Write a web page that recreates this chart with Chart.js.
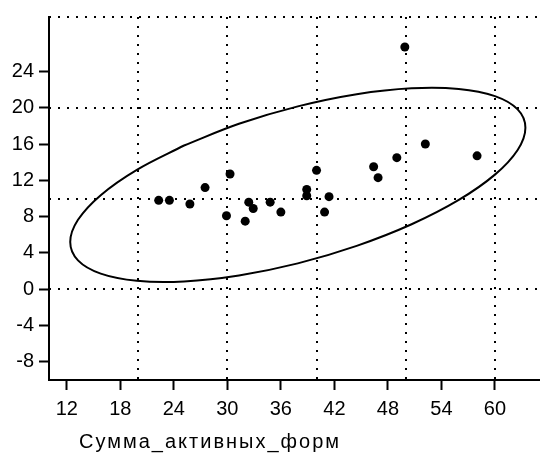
<!DOCTYPE html>
<html>
<head>
<meta charset="utf-8">
<script src="https://cdn.jsdelivr.net/npm/chart.js@4"></script>
<style>
  html, body { margin: 0; padding: 0; background: #fff; }
</style>
</head>
<body>
<canvas id="scatter-chart" width="544" height="455"></canvas>
<script>
// Observations (x = Сумма_активных_форм)
const sumActive = [22.3, 23.5, 25.8, 27.5, 29.9, 30.3, 32.0, 32.4, 32.9, 34.8, 36.0,
                   38.9, 38.9, 40.0, 40.9, 41.4, 46.4, 46.9, 49.0, 49.9, 52.2, 58.0];
const yValues = [9.8, 9.8, 9.4, 11.2, 8.1, 12.7, 7.5, 9.6, 8.9, 9.6, 8.5,
                 11.0, 10.3, 13.1, 8.5, 10.2, 13.5, 12.3, 14.5, 26.7, 16.0, 14.7];

// Confidence ellipse, going round from the upper-left side
// (closed: last point = first)
const ellipseX = [25.14, 19.85, 15.80, 13.25, 12.38, 13.25, 15.80, 19.85, 25.14, 31.30,
                  37.90, 44.50, 50.66, 55.95, 60.00, 62.55, 63.42, 62.55, 60.00, 55.95,
                  50.66, 44.50, 37.90, 31.30, 25.14];
const ellipseY = [15.84, 13.16, 10.37, 7.65, 5.20, 3.18, 1.72, 0.93, 0.86, 1.52,
                  2.85, 4.78, 7.16, 9.84, 12.63, 15.35, 17.80, 19.82, 21.28, 22.07,
                  22.14, 21.49, 20.15, 18.23, 15.84];

// Axes
const xTicks = [12, 18, 24, 30, 36, 42, 48, 54, 60];
const yTicks = [-8, -4, 0, 4, 8, 12, 16, 20, 24];
const xGridLines = [20, 30, 40, 50, 60];
const yGridLines = [0, 10, 20, 30];
const xTitle = "Сумма_активных_форм";

const FONT = { family: "Liberation Sans", size: 20 };

// x-axis title sits left-aligned, a bit in from the y axis
const axisTitlePlugin = {
  id: "axisTitle",
  afterDraw(chart) {
    const { ctx, chartArea } = chart;
    ctx.save();
    ctx.font = '20px "Liberation Sans"';
    ctx.letterSpacing = "2px";
    ctx.fillStyle = "#000";
    ctx.textBaseline = "alphabetic";
    ctx.textAlign = "left";
    ctx.fillText(xTitle, chartArea.left + 30, chartArea.bottom + 68);
    ctx.restore();
  },
};

const setTicks = (values) => (axis) => {
  axis.ticks = values.map((v) => ({ value: v }));
};

const ctx = document.getElementById("scatter-chart").getContext("2d");

new Chart(ctx, {
  type: "scatter",
  data: {
    datasets: [
      {
        label: "points",
        data: sumActive.map((x, i) => ({ x, y: yValues[i] })),
        backgroundColor: "#000",
        borderColor: "#000",
        borderWidth: 0,
        pointRadius: 4.5,
      },
      {
        label: "ellipse",
        data: ellipseX.map((x, i) => ({ x, y: ellipseY[i] })),
        showLine: true,
        borderColor: "#000",
        borderWidth: 2,
        pointRadius: 0,
        tension: 0.35,
        fill: false,
      },
    ],
  },
  options: {
    responsive: false,
    animation: false,
    layout: { padding: { top: 10, left: 0, right: 0, bottom: 0 } },
    plugins: {
      legend: { display: false },
      tooltip: { enabled: false },
    },
    scales: {
      x: {
        type: "linear",
        position: "bottom",
        min: 10,
        max: 65,
        afterBuildTicks: setTicks(xTicks),
        afterFit: (axis) => { axis.height = 75; },
        grid: { drawOnChartArea: false, drawTicks: true, tickLength: 10, tickWidth: 2, tickColor: "#000" },
        border: { display: true, color: "#000", width: 2 },
        ticks: { color: "#000", font: FONT, padding: 7, maxRotation: 0, autoSkip: false },
      },
      xg: {
        type: "linear",
        position: "bottom",
        min: 10,
        max: 65,
        afterBuildTicks: setTicks(xGridLines),
        grid: { color: "#000", lineWidth: 2, drawTicks: false },
        border: { display: false, dash: [2, 7] },
        ticks: { display: false },
      },
      y: {
        type: "linear",
        position: "left",
        min: -10,
        max: 30,
        afterBuildTicks: setTicks(yTicks),
        afterFit: (axis) => { axis.width = 49; },
        grid: { drawOnChartArea: false, drawTicks: true, tickLength: 10, tickWidth: 2, tickColor: "#000" },
        border: { display: true, color: "#000", width: 2 },
        ticks: { color: "#000", font: FONT, padding: 5, autoSkip: false },
      },
      yg: {
        type: "linear",
        position: "left",
        min: -10,
        max: 30,
        afterBuildTicks: setTicks(yGridLines),
        grid: { color: "#000", lineWidth: 2, drawTicks: false },
        border: { display: false, dash: [2, 7] },
        ticks: { display: false },
      },
    },
  },
  plugins: [axisTitlePlugin],
});
</script>
</body>
</html>
